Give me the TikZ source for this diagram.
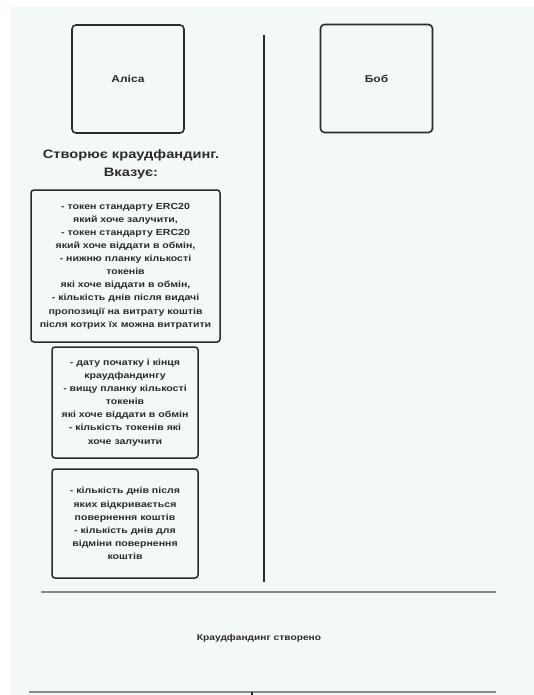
\documentclass[tikz,border=0pt]{standalone}
\usepackage{fontspec}
\setmainfont[FakeStretch=1.2]{Liberation Sans}
\definecolor{paper}{HTML}{F3F8F9}
\definecolor{ink}{HTML}{2B2B2B}
\definecolor{rule}{HTML}{8A8A8A}
\tikzset{
  actor/.style={draw=ink, line width=1.6pt, rounded corners=4pt,
    minimum width=112pt, minimum height=108pt, inner sep=0pt,
    font=\fontsize{10}{12}\selectfont\bfseries, text=ink},
  notebox/.style={draw=ink, line width=1.5pt, rounded corners=3pt,
    inner sep=0pt, align=center,
    font=\fontsize{8.8}{13.1}\selectfont\bfseries, text=ink},
  heading/.style={align=center, inner sep=0pt,
    font=\fontsize{12.2}{18}\selectfont\bfseries, text=ink},
  caption/.style={inner sep=0pt, font=\fontsize{8.5}{11}\selectfont\bfseries, text=ink},
  divider/.style={draw=rule, line width=1.4pt},
  lane/.style={draw=ink, line width=1.6pt}
}
\begin{document}
\begin{tikzpicture}[x=1pt,y=-1pt]
  % page and tinted canvas
  \fill[white] (0,0) rectangle (534,695);
  \fill[paper] (11,7) rectangle (534,695);
  \useasboundingbox (0,0) rectangle (534,695);

  % participants
  \node[actor] (alice) at (128,79) {Аліса};
  \node[actor] (bob) at (376.5,78.5) {Боб};

  % lane separator
  \coordinate (laneTop) at (264,35);
  \coordinate (laneBot) at (264,582);
  \draw[lane] (laneTop) -- (laneBot);

  % Alice's action
  \node[heading] (title) at (131,164.5) {Створює краудфандинг.\\Вказує:};

  \node[notebox, minimum width=189pt, minimum height=152pt] (p1) at (125.5,266)
    {- токен стандарту ERC20\\
     який хоче залучити,\\
     - токен стандарту ERC20\\
     який хоче віддати в обмін,\\
     - нижню планку кількості\\
     токенів\\
     які хоче віддати в обмін,\\
     - кількість днів після видачі\\
     пропозиції на витрату коштів\\
     після котрих їх можна витратити};

  \node[notebox, minimum width=146pt, minimum height=111pt] (p2) at (125,402.5)
    {- дату початку і кінця\\
     краудфандингу\\
     - вищу планку кількості\\
     токенів\\
     які хоче віддати в обмін\\
     - кількість токенів які\\
     хоче залучити};

  \node[notebox, minimum width=146pt, minimum height=109pt] (p3) at (125,523.5)
    {- кількість днів після\\
     яких відкривається\\
     повернення коштів\\
     - кількість днів для\\
     відміни повернення\\
     коштів};

  % result section
  \coordinate (r1a) at (41,592);
  \coordinate (r1b) at (496,592);
  \draw[divider] (r1a) -- (r1b);
  \node[caption] (done) at (259,638) {Краудфандинг створено};
  \coordinate (r2a) at (29,692);
  \coordinate (r2b) at (496,692);
  \draw[divider] (r2a) -- (r2b);
  \coordinate (tickTop) at (252,692);
  \coordinate (tickBot) at (252,696);
  \draw[lane] (tickTop) -- (tickBot);
\end{tikzpicture}
\end{document}
